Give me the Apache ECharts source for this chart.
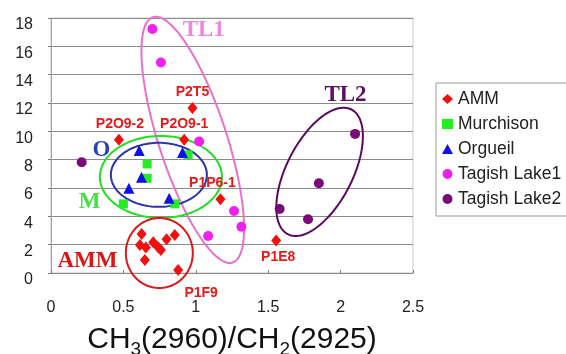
<!DOCTYPE html>
<html><head><meta charset="utf-8">
<script src="https://cdn.jsdelivr.net/npm/echarts@6/dist/echarts.min.js"></script>
<style>html,body{margin:0;padding:0;background:#fff}#c{width:566px;height:354px}</style>
</head><body><div id="c"></div>
<script>
// ---- data ----
const xTicks = [0, 0.5, 1, 1.5, 2, 2.5];
const yTicks = [0, 2, 4, 6, 8, 10, 12, 14, 16, 18];
const seriesNames = ['AMM', 'Murchison', 'Orgueil', 'Tagish Lake1', 'Tagish Lake2'];

const ammX = [0.469, 0.92, 0.977, 1.17, 1.555, 0.878, 0.626, 0.614, 0.655, 0.706, 0.740, 0.759, 0.798, 0.855, 0.648];
const ammY = [9.40, 9.40, 11.64, 5.21, 2.30, 0.21, 2.76, 1.98, 1.80, 2.17, 1.82, 1.63, 2.38, 2.69, 0.92];
const ammNames = ['P2O9-2', 'P2O9-1', 'P2T5', 'P1P6-1', 'P1E8', 'P1F9', '', '', '', '', '', '', '', '', ''];

const murX = [0.50, 0.664, 0.664, 0.855, 0.947];
const murY = [4.88, 6.69, 7.70, 4.88, 8.34];

const orgX = [0.538, 0.609, 0.625, 0.816, 0.908];
const orgY = [5.98, 8.64, 6.76, 5.28, 8.50];

const tl1X = [0.70, 0.759, 1.023, 1.085, 1.264, 1.315];
const tl1Y = [17.22, 14.86, 9.28, 2.61, 4.38, 3.27];

const tl2X = [0.212, 1.579, 1.775, 1.85, 2.10];
const tl2Y = [7.82, 4.52, 3.79, 6.34, 9.82];

// group annotations (ellipse centres and label anchors, in data units)
const groupNames = ['TL1', 'TL2', 'O', 'M', 'AMM'];
const groupCX = [0.979, 1.855, 0.745, 0.759, 0.748];
const groupCY = [9.40, 7.14, 6.93, 6.78, 1.41];
const groupTX = [1.055, 2.034, 0.348, 0.266, 0.252];
const groupTY = [17.17, 12.58, 8.69, 5.02, 0.85];

// ---- styles ----
const groupStyle = [
  {rx: 34, ry: 129, rot: -18, color: '#e870d0', text: '#ee88dd'},
  {rx: 33, ry: 70, rot: 27, color: '#5a0a5e', text: '#5a1062'},
  {rx: 48, ry: 32, rot: 0, color: '#2a35a8', text: '#3040b0'},
  {rx: 61, ry: 41, rot: 0, color: '#22dd22', text: '#44e044'},
  {rx: 33.5, ry: 35, rot: 0, color: '#dd1818', text: '#dd1515'}
];
const labelStyle = {
  'P2O9-2': {position: 'top', distance: 3, offset: [1, 0]},
  'P2O9-1': {position: 'top', distance: 3, offset: [0, 0]},
  'P2T5': {position: 'top', distance: 3, offset: [0, 0]},
  'P1P6-1': {position: 'top', distance: 3, offset: [-8, 0]},
  'P1E8': {position: 'bottom', distance: 4, offset: [2, 0]},
  'P1F9': {position: 'bottom', distance: 4, offset: [23, 6]}
};
const colors = ['#f01010', '#22ee22', '#1010e8', '#f020f0', '#7a0a7a'];
const symbols = ['diamond', 'rect', 'triangle', 'circle', 'circle'];
const sizes = [[10, 12], 9, 11, 10, 10];

function pts(xs, ys) { return xs.map((x, i) => [x, ys[i]]); }

const ammData = ammX.map((x, i) => {
  const d = {value: [x, ammY[i]], name: ammNames[i]};
  const ls = labelStyle[ammNames[i]];
  if (ls) {
    d.label = Object.assign({show: true, formatter: ammNames[i], color: '#e81818',
      fontSize: 14, fontWeight: 'bold', fontFamily: 'Liberation Sans, Arial, sans-serif'}, ls);
  }
  return d;
});

const allData = [ammData, pts(murX, murY), pts(orgX, orgY), pts(tl1X, tl1Y), pts(tl2X, tl2Y)];

const chart = echarts.init(document.getElementById('c'), null, {renderer: 'canvas'});
const font = 'Liberation Sans, Arial, sans-serif';

const option = {
  animation: false,
  backgroundColor: '#fff',
  grid: {left: 51, right: 153, top: 18, bottom: 81, show: true, borderColor: '#c8c8c8', borderWidth: 1,
         containLabel: false, outerBoundsMode: 'none'},
  legend: {
    orient: 'vertical', left: 436, top: 83,
    data: seriesNames.map((n, i) => ({name: n, icon: symbols[i]})),
    itemWidth: 11, itemHeight: 10, itemGap: 5,
    padding: [6, 40, 7, 6],
    borderColor: '#9a9a9a', borderWidth: 1, backgroundColor: '#fff',
    textStyle: {fontSize: 17.5, color: '#222', fontFamily: font, lineHeight: 20}
  },
  xAxis: {
    type: 'value', min: xTicks[0], max: xTicks[xTicks.length - 1], interval: xTicks[1] - xTicks[0],
    splitLine: {show: false},
    axisLine: {show: true, lineStyle: {color: '#8a8a8a', width: 1}},
    axisTick: {show: true, inside: true, length: 3, lineStyle: {color: '#777'}},
    axisLabel: {margin: 27, fontSize: 16, color: '#222', fontFamily: font, showMaxLabel: true, showMinLabel: true},
    name: '{a|CH}{s|3}{a|(2960)/CH}{s|2}{a|(2925)}',
    nameLocation: 'middle', nameGap: 46,
    nameTextStyle: {
      rich: {
        a: {fontSize: 30, fontFamily: font, color: '#111', lineHeight: 38},
        s: {fontSize: 19, fontFamily: font, color: '#111', lineHeight: 19, padding: [19, 0, 0, 0]}
      }
    }
  },
  yAxis: {
    type: 'value', min: yTicks[0], max: yTicks[yTicks.length - 1], interval: yTicks[1] - yTicks[0],
    splitLine: {show: true, lineStyle: {color: '#8c8c8c', width: 1}},
    axisLine: {show: true, lineStyle: {color: '#a0a0a0', width: 1}},
    axisTick: {show: true, length: 3, lineStyle: {color: '#777'}},
    axisLabel: {margin: 18, fontSize: 16, color: '#222', fontFamily: font, verticalAlign: 'top', lineHeight: 14}
  },
  series: seriesNames.map((n, i) => ({
    name: n, type: 'scatter', data: allData[i],
    symbol: symbols[i], symbolSize: sizes[i],
    itemStyle: {color: colors[i], opacity: 1},
    z: 3
  }))
};
chart.setOption(option);

function buildGraphics() {
  const els = [];
  groupNames.forEach((g, i) => {
    const c = chart.convertToPixel({gridIndex: 0}, [groupCX[i], groupCY[i]]);
    const st = groupStyle[i];
    const r = st.rot * Math.PI / 180;
    const points = [];
    for (let k = 0; k < 120; k++) {
      const t = k / 120 * Math.PI * 2;
      const ex = st.rx * Math.cos(t), ey = st.ry * Math.sin(t);
      points.push([c[0] + ex * Math.cos(r) - ey * Math.sin(r), c[1] + ex * Math.sin(r) + ey * Math.cos(r)]);
    }
    els.push({type: 'polygon', z: 2, shape: {points}, style: {fill: 'none', stroke: st.color, lineWidth: 2}});
    const tp = chart.convertToPixel({gridIndex: 0}, [groupTX[i], groupTY[i]]);
    els.push({type: 'text', z: 4, x: tp[0], y: tp[1], style: {text: g, fill: st.text,
      font: 'bold 23px "Liberation Serif", "Times New Roman", serif', textAlign: 'center', textVerticalAlign: 'middle'}});
  });
  return els;
}
chart.setOption({graphic: buildGraphics()});
</script>
</body></html>
